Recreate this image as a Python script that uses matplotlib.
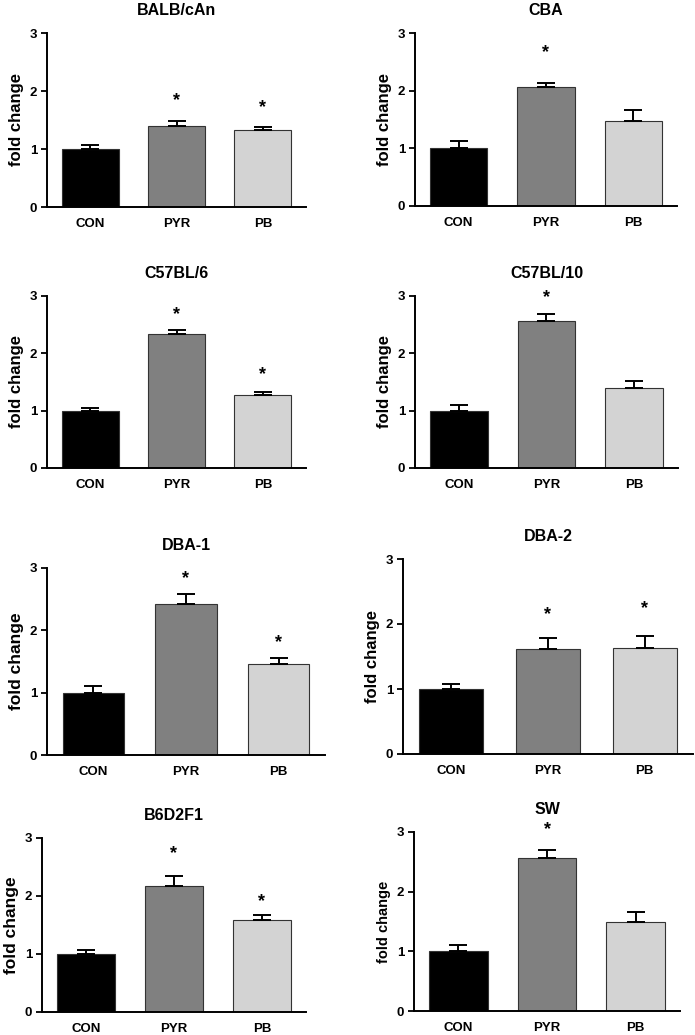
import matplotlib
matplotlib.use("Agg")
import matplotlib.pyplot as plt

plt.rcParams.update({"font.family": ["Liberation Sans", "DejaVu Sans"], "font.weight": "bold"})

GROUPS = ["CON", "PYR", "PB"]
STRAINS = ["BALB/cAn", "CBA", "C57BL/6", "C57BL/10", "DBA-1", "DBA-2", "B6D2F1", "SW"]
# mean fold change per strain (CON, PYR, PB)
MEANS = [
    [1.00, 1.40, 1.32],
    [1.00, 2.06, 1.48],
    [1.00, 2.33, 1.27],
    [1.00, 2.56, 1.40],
    [1.00, 2.42, 1.46],
    [1.00, 1.62, 1.63],
    [1.00, 2.18, 1.59],
    [1.00, 2.56, 1.49],
]
# SEM (upper error only)
SEMS = [
    [0.07, 0.08, 0.06],
    [0.12, 0.07, 0.19],
    [0.04, 0.08, 0.06],
    [0.10, 0.12, 0.12],
    [0.10, 0.17, 0.09],
    [0.07, 0.16, 0.19],
    [0.07, 0.16, 0.09],
    [0.10, 0.14, 0.17],
]
# significance marks: height of "*" or None
STARS = [
    [None, 1.90, 1.79],
    [None, 2.74, None],
    [None, 2.75, 1.70],
    [None, 3.05, None],
    [None, 2.90, 1.87],
    [None, 2.21, 2.30],
    [None, 2.80, 1.98],
    [None, 3.11, None],
]
COLORS = ["#000000", "#808080", "#d3d3d3"]

W, H = 695, 1035
# axes boxes in pixels: left, right, top (y=3), bottom (y=0)
BOXES = [
    (47, 306, 33, 207), (415, 677, 33, 206),
    (47, 306, 296, 468), (415, 678, 296, 468),
    (47, 325, 568, 755), (403, 693, 559, 754),
    (42, 306, 838, 1012), (414, 680, 832, 1011),
]
YLAB_SIZE = [12, 12, 12, 12, 12.5, 12, 12.5, 10.5]

fig = plt.figure(figsize=(W / 100, H / 100), dpi=100)
for i, name in enumerate(STRAINS):
    l, r, t, b = BOXES[i]
    ax = fig.add_axes([l / W, 1 - b / H, (r - l) / W, (b - t) / H])
    x = range(len(GROUPS))
    ax.bar(x, MEANS[i], width=0.66, color=COLORS, edgecolor="#333333", linewidth=0.8, zorder=2)
    ax.errorbar(x, MEANS[i], yerr=[[0, 0, 0], SEMS[i]], fmt="none", ecolor="black",
                elinewidth=1.4, capsize=6.5, capthick=1.4, zorder=3)
    for j, s in enumerate(STARS[i]):
        if s is not None:
            ax.annotate("*", (j, s), xytext=(0, -3), textcoords="offset points",
                        ha="center", va="center", fontsize=13, fontweight="bold", annotation_clip=False)
    ax.set_xlim(-0.5, 2.5)
    ax.set_ylim(0, 3)
    ax.set_yticks([0, 1, 2, 3])
    ax.set_xticks(list(x))
    ax.set_xticklabels(GROUPS, fontsize=9.5, fontweight="bold")
    ax.tick_params(axis="y", labelsize=9.5, width=1.3, length=4, direction="out", pad=3)
    ax.tick_params(axis="x", length=0, pad=8)
    for sp in ["top", "right"]:
        ax.spines[sp].set_visible(False)
    for sp in ["left", "bottom"]:
        ax.spines[sp].set_linewidth(1.4)
    ax.set_ylabel("fold change", fontsize=YLAB_SIZE[i], fontweight="bold", labelpad=4)
    ax.set_title(name, fontsize=11.5, fontweight="bold", pad=13)

fig.savefig("out.png", dpi=100, facecolor="white")
